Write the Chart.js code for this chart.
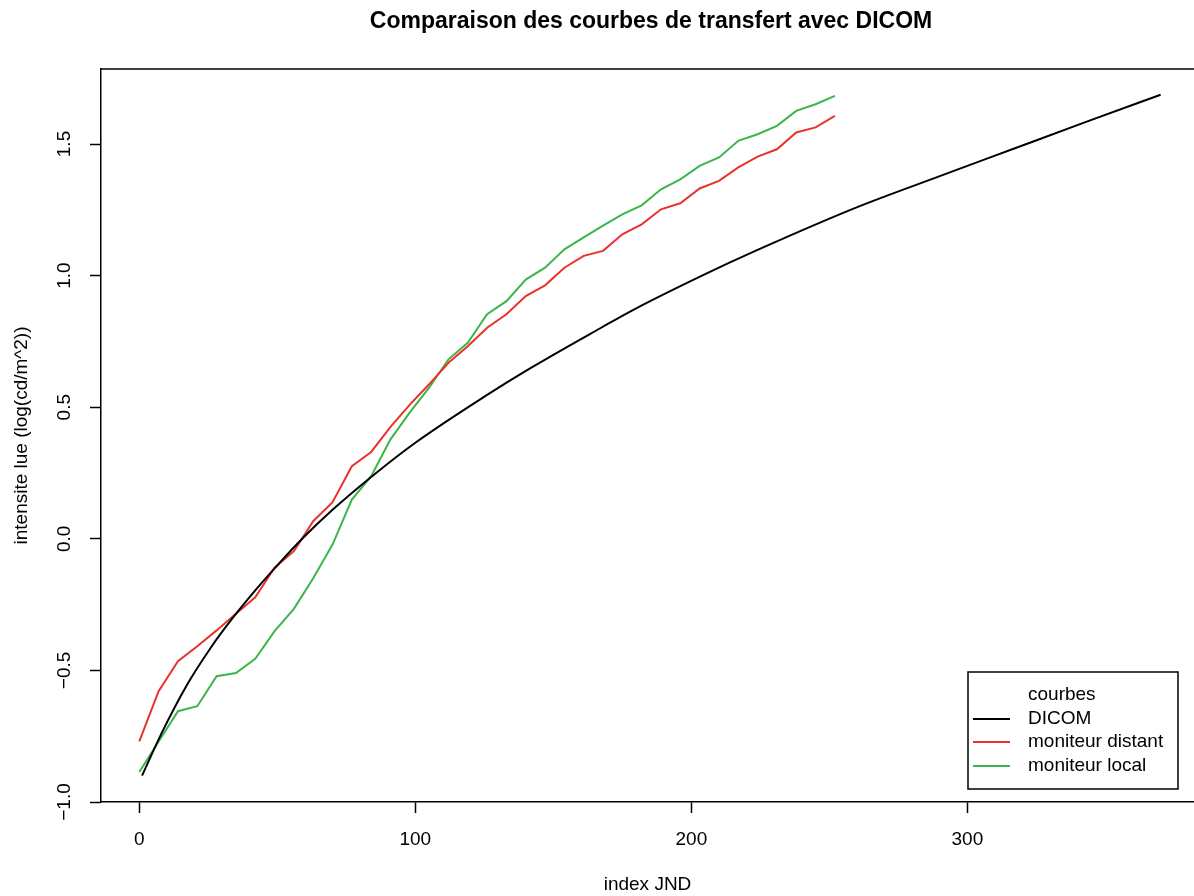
<!DOCTYPE html>
<html>
<head>
<meta charset="utf-8">
<script src="https://cdn.jsdelivr.net/npm/chart.js@4.4.1/dist/chart.umd.min.js"></script>
<style>
    html, body { margin: 0; padding: 0; background: #fff; overflow: hidden; }
    #wrap { width: 1194px; height: 896px; }
</style>
</head>
<body>
<div id="wrap"><canvas id="jndChart" width="1194" height="896"></canvas></div>
<script>
// DICOM reference curve (index JND, log luminance)
var dicomX = [1, 8, 17, 26, 33, 42, 50, 59, 70, 84, 100, 125, 142, 167, 179, 214, 232, 261, 290, 317, 343, 370];
var dicomY = [-0.90, -0.74, -0.56, -0.412, -0.312, -0.196, -0.101, 0.0, 0.11, 0.235, 0.365, 0.54, 0.65, 0.80, 0.87, 1.05, 1.135, 1.264, 1.378, 1.483, 1.584, 1.687];

// measured points, one every 7 JND
var monitorX = [0, 7, 14, 21, 28, 35, 42, 49, 56, 63, 70, 77, 84, 91, 98, 105, 112, 119, 126, 133, 140, 147, 154, 161, 168, 175, 182, 189, 196, 203, 210, 217, 224, 231, 238, 245, 252];
var distantY = [-0.77, -0.579, -0.465, -0.408, -0.348, -0.285, -0.222, -0.11, -0.047, 0.067, 0.139, 0.276, 0.33, 0.425, 0.51, 0.587, 0.669, 0.732, 0.802, 0.853, 0.922, 0.963, 1.03, 1.075, 1.094, 1.157, 1.195, 1.252, 1.275, 1.331, 1.36, 1.411, 1.452, 1.48, 1.544, 1.563, 1.607];
var localY = [-0.886, -0.77, -0.655, -0.636, -0.522, -0.51, -0.456, -0.351, -0.266, -0.15, -0.022, 0.149, 0.238, 0.378, 0.48, 0.574, 0.682, 0.745, 0.853, 0.903, 0.985, 1.03, 1.10, 1.145, 1.19, 1.233, 1.267, 1.328, 1.366, 1.417, 1.449, 1.512, 1.537, 1.569, 1.626, 1.651, 1.683];

var xTicks = [0, 100, 200, 300];
var yTicks = [-1.0, -0.5, 0.0, 0.5, 1.0, 1.5];
var yTickLabels = ['\u22121.0', '\u22120.5', '0.0', '0.5', '1.0', '1.5'];

var seriesNames = ['DICOM', 'moniteur distant', 'moniteur local'];
var seriesColors = ['#000000', '#e8332b', '#3cb54a'];

var FONT = '"Liberation Sans", Arial, Helvetica, sans-serif';

function toPoints(xs, ys) {
    return xs.map(function (v, i) { return { x: v, y: ys[i] }; });
}

// R-like frame, rotated y labels, title and legend box
var rStylePlugin = {
    id: 'rStyle',
    afterDraw: function (chart) {
        var ctx = chart.ctx;
        var area = chart.chartArea;
        var yScale = chart.scales.y;
        ctx.save();

        // top edge of the box
        ctx.strokeStyle = '#000';
        ctx.lineWidth = 1.5;
        ctx.beginPath();
        ctx.moveTo(area.left, area.top);
        ctx.lineTo(area.right, area.top);
        ctx.stroke();

        // y tick labels, parallel to the axis
        ctx.fillStyle = '#000';
        ctx.font = '19px ' + FONT;
        ctx.textAlign = 'center';
        ctx.textBaseline = 'middle';
        yTicks.forEach(function (v, i) {
            var py = yScale.getPixelForValue(v);
            ctx.save();
            ctx.translate(65, py);
            ctx.rotate(-Math.PI / 2);
            ctx.fillText(yTickLabels[i], 0, 0);
            ctx.restore();
        });

        // title, centred over the plot region
        ctx.font = 'bold 23px ' + FONT;
        ctx.fillText('Comparaison des courbes de transfert avec DICOM', 651, 22);

        // legend
        var bx = 968, by = 672, bw = 210, bh = 117;
        ctx.lineWidth = 1.5;
        ctx.strokeRect(bx, by, bw, bh);
        ctx.font = '19px ' + FONT;
        ctx.textAlign = 'left';
        ctx.fillText('courbes', 1028, 695);
        var rows = [719, 742, 766];
        rows.forEach(function (ry, i) {
            ctx.strokeStyle = seriesColors[i];
            ctx.lineWidth = 2;
            ctx.beginPath();
            ctx.moveTo(973, ry);
            ctx.lineTo(1010, ry);
            ctx.stroke();
            ctx.fillText(seriesNames[i], 1028, ry);
        });
        ctx.restore();
    }
};

var ctxJnd = document.getElementById('jndChart').getContext('2d');
var jndChart = new Chart(ctxJnd, {
    type: 'scatter',
    data: {
        datasets: [{
            label: seriesNames[0],
            data: toPoints(dicomX, dicomY),
            borderColor: seriesColors[0],
            borderWidth: 2,
            showLine: true,
            pointRadius: 0,
            cubicInterpolationMode: 'monotone'
        }, {
            label: seriesNames[1],
            data: toPoints(monitorX, distantY),
            borderColor: seriesColors[1],
            borderWidth: 2,
            showLine: true,
            pointRadius: 0
        }, {
            label: seriesNames[2],
            data: toPoints(monitorX, localY),
            borderColor: seriesColors[2],
            borderWidth: 2,
            showLine: true,
            pointRadius: 0
        }]
    },
    options: {
        responsive: false,
        animation: false,
        events: [],
        layout: { padding: { left: 0, right: 0, top: 69, bottom: 0 } },
        plugins: {
            legend: { display: false },
            tooltip: { enabled: false }
        },
        scales: {
            x: {
                type: 'linear',
                min: -13.88,
                max: 382.1,
                afterBuildTicks: function (scale) {
                    scale.ticks = xTicks.map(function (v) { return { value: v }; });
                },
                afterFit: function (scale) { scale.height = 94; },
                grid: { drawOnChartArea: false, drawTicks: true, tickLength: 11, tickColor: '#000', tickWidth: 1.5 },
                border: { display: true, color: '#000', width: 1.5 },
                ticks: {
                    color: '#000',
                    font: { family: FONT, size: 19 },
                    padding: 15,
                    maxRotation: 0
                },
                title: {
                    display: true,
                    text: 'index JND',
                    color: '#000',
                    font: { family: FONT, size: 19 },
                    padding: { top: 20, bottom: 0 }
                }
            },
            y: {
                type: 'linear',
                min: -1.0,
                max: 1.785,
                afterBuildTicks: function (scale) {
                    scale.ticks = yTicks.map(function (v) { return { value: v }; });
                },
                afterFit: function (scale) { scale.width = 101; },
                grid: { drawOnChartArea: false, drawTicks: true, tickLength: 11, tickColor: '#000', tickWidth: 1.5 },
                border: { display: true, color: '#000', width: 1.5 },
                ticks: { display: false },
                title: {
                    display: true,
                    text: 'intensite lue (log(cd/m^2))',
                    color: '#000',
                    font: { family: FONT, size: 19 },
                    padding: { top: 10, bottom: 0 }
                }
            }
        }
    },
    plugins: [rStylePlugin]
});
</script>
</body>
</html>
